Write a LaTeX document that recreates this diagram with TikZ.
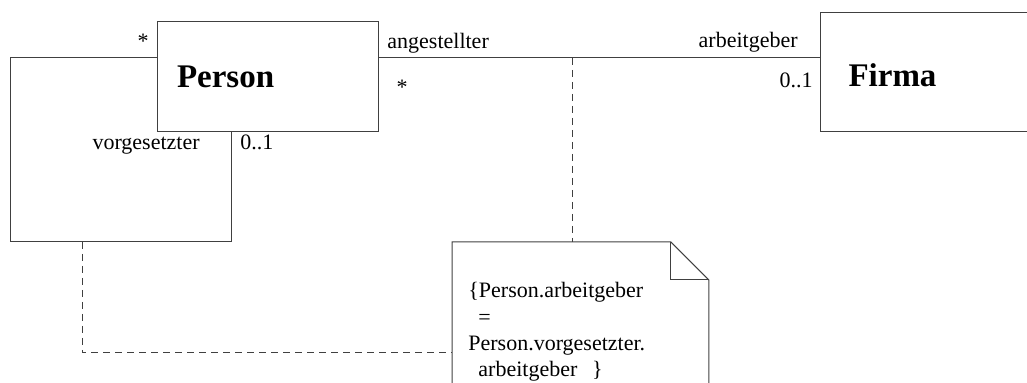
\documentclass[tikz,border=0pt]{standalone}
\usepackage{fontspec}
\setmainfont{Liberation Serif}

\tikzset{
  klasse/.style={draw=black!75, line width=0.5pt, rectangle, anchor=north west,
    font=\fontsize{16.5}{20}\selectfont\bfseries, align=left, inner ysep=0pt},
  rolle/.style={font=\fontsize{11}{13}\selectfont, inner sep=0pt},
  assoz/.style={draw=black!75, line width=0.5pt},
  hinweis/.style={draw=black!75, line width=0.5pt, dash pattern=on 3.5pt off 2.5pt}
}

\begin{document}
\begin{tikzpicture}[x=0.5pt,y=-0.5pt]
  \useasboundingbox (0,0) rectangle (1027,383);

  % Klassen
  \node[klasse, minimum height=55pt, text width=91pt, inner xsep=9.75pt] (Person) at (157,21) {Person};
  \node[klasse, minimum height=59.5pt, text width=92pt, inner xsep=14pt, text height=15pt] (Firma) at (820,12) {Firma};

  % Notiz
  \node[anchor=north west, font=\fontsize{11}{13.2}\selectfont, align=left,
    text width=112pt, inner xsep=8pt, inner ysep=20pt] (Notiz) at (452,242)
    {\{Person.arbeitgeber\\
     \hspace*{5pt}=\\
     Person.vorgesetzter.\\
     \hspace*{5pt}arbeitgeber \ \}};
  \draw[assoz] (Notiz.south west) -- (Notiz.north west) -- ([xshift=-19pt]Notiz.north east)
    -- ([yshift=-19pt]Notiz.north east) -- (Notiz.south east);
  \draw[assoz] ([xshift=-19pt]Notiz.north east) |- ([yshift=-19pt]Notiz.north east);

  % Hilfspunkte
  \coordinate (lvl) at (0,58);
  \coordinate (nlvl) at (0,353);
  \coordinate (loopbl) at (10,242);
  \coordinate (loopre) at (231,0);
  \coordinate (loopanker) at (82,242);
  \coordinate (anker) at (572,0);

  % Assoziationen
  \draw[assoz] (Person.east |- lvl) -- (Firma.west |- lvl);
  \draw[assoz] (Person.west |- lvl) -| (loopbl) -| (Person.south -| loopre);

  % Rollen und Multiplizitaeten
  \node[rolle, anchor=base] (m1) at (143,49) {*};
  \node[rolle, anchor=base east] (r1) at (200,150) {vorgesetzter};
  \node[rolle, anchor=base west] (m2) at (240,150) {0..1};
  \node[rolle, anchor=base west] (r2) at (387,49) {angestellter};
  \node[rolle, anchor=base] (m3) at (402,95) {*};
  \node[rolle, anchor=base east] (r3) at (798,48) {arbeitgeber};
  \node[rolle, anchor=base east] (m4) at (813,88) {0..1};

  % Notizverbindungen
  \draw[hinweis] (anker |- lvl) -- (Notiz.north -| anker);
  \draw[hinweis] (loopanker) |- (Notiz.west |- nlvl);
\end{tikzpicture}
\end{document}
